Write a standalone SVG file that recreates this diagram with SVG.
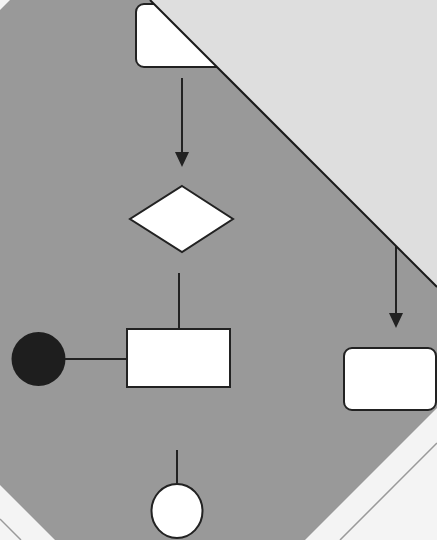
<svg xmlns="http://www.w3.org/2000/svg" width="437" height="540" viewBox="0 0 437 540">
  <defs>
    <style>
      .node { fill: #ffffff; stroke: #222222; stroke-width: 2; }
      .conn { stroke: #222222; stroke-width: 2; fill: none; }
      .edge { stroke: #9a9a9a; stroke-width: 1.5; fill: none; }
    </style>
    <marker id="arrow" viewBox="0 0 14 16" refX="7" refY="16" markerWidth="14" markerHeight="16" markerUnits="userSpaceOnUse" orient="auto-start-reverse">
      <path d="M0,0 L14,0 L7,16 Z" fill="#222222" transform="rotate(0)"/>
    </marker>
  </defs>

  <!-- background -->
  <rect x="0" y="0" width="437" height="540" fill="#f4f4f4"/>
  <polygon points="10,0 150,0 437,287 437,408 305,540 55,540 0,485 0,10" fill="#999999"/>
  <line class="edge" x1="0" y1="519" x2="21" y2="540"/>
  <line class="edge" x1="437" y1="443" x2="340" y2="540"/>

  <!-- nodes -->
  <g id="start">
    <rect class="node" x="136" y="4" width="120" height="63" rx="8"/>
  </g>
  <g id="decision">
    <polygon class="node" points="182,186 233,219 182,252 130,219"/>
  </g>
  <g id="process">
    <rect class="node" x="127" y="329" width="103" height="58"/>
  </g>
  <g id="initial">
    <circle cx="38.5" cy="359" r="27" fill="#1e1e1e"/>
  </g>
  <g id="final">
    <ellipse class="node" cx="177" cy="511" rx="25.5" ry="27"/>
  </g>
  <g id="side">
    <rect class="node" x="344" y="348" width="92" height="62" rx="8"/>
  </g>

  <!-- connectors -->
  <g id="connectors">
    <path d="M182,78 V 152" class="conn"/>
    <path d="M175,152 L189,152 L182,167 Z" fill="#222222"/>
    <path d="M179,273 V 329" class="conn"/>
    <path d="M65,359 H 127" class="conn"/>
    <path d="M177,450 V 484" class="conn"/>
    <path d="M396,246 V 313" class="conn"/>
    <path d="M389,313 L403,313 L396,328 Z" fill="#222222"/>
  </g>

  <!-- overlay light area with dark edge -->
  <polygon points="150,0 437,0 437,287" fill="#dedede"/>
  <line x1="150" y1="0" x2="437" y2="287" stroke="#1a1a1a" stroke-width="2"/>
</svg>
